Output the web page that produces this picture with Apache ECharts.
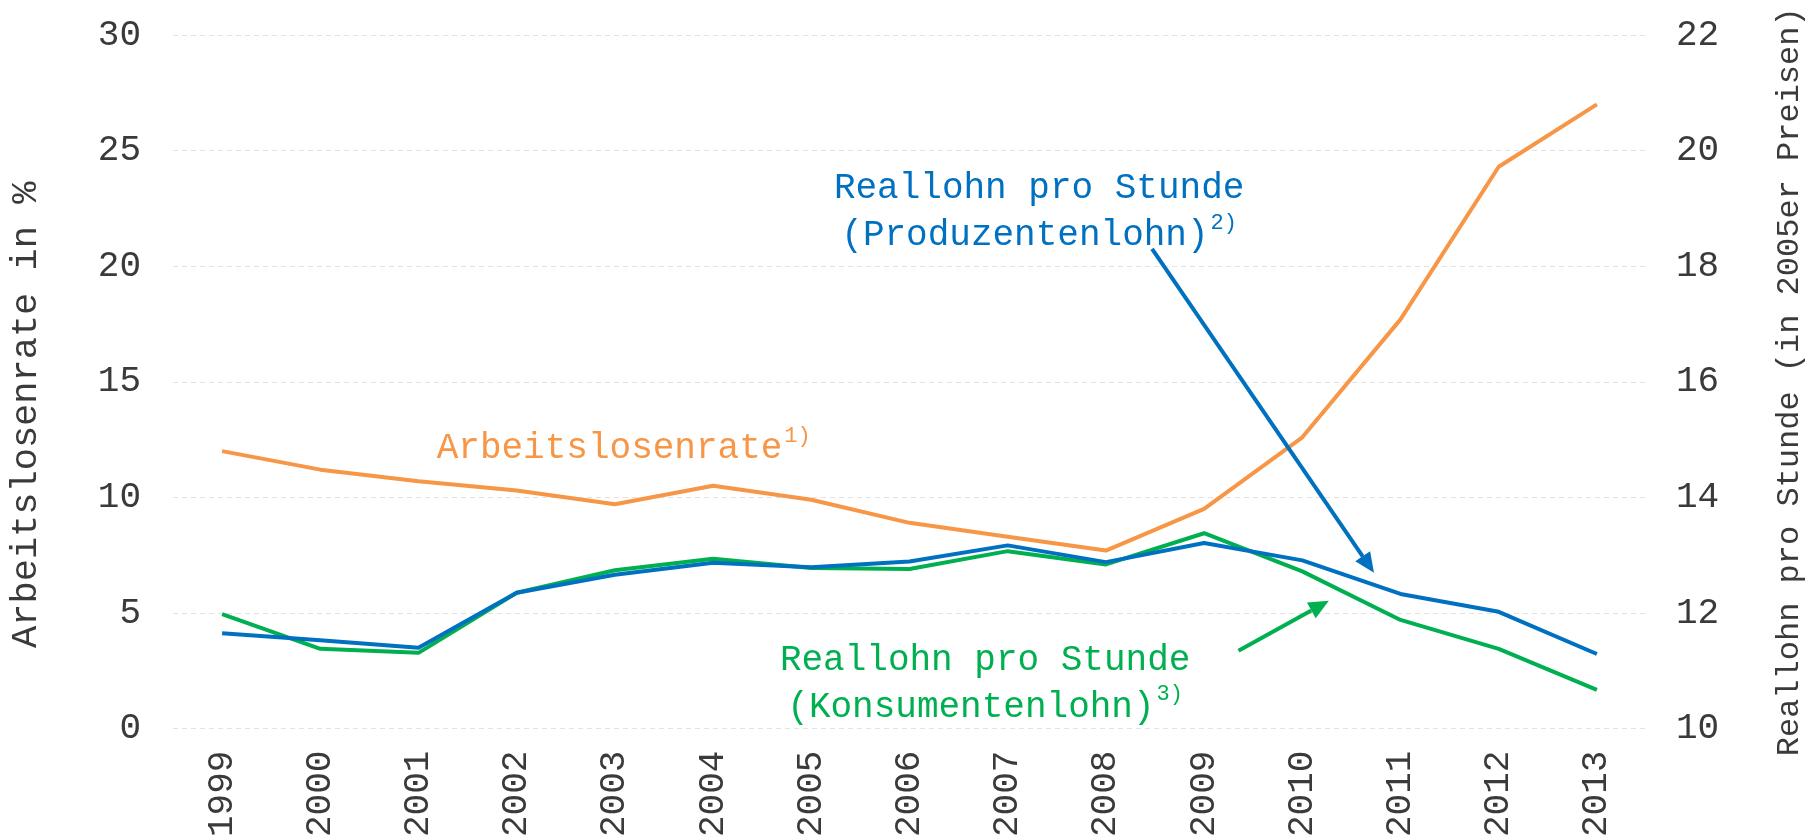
<!DOCTYPE html>
<html>
<head>
<meta charset="utf-8">
<script src="https://cdn.jsdelivr.net/npm/echarts@6/dist/echarts.min.js"></script>
<style>
  html, body { margin: 0; padding: 0; background: #fff; }
  #main { width: 1814px; height: 840px; }
</style>
</head>
<body>
<div id="main"></div>
<script>
// Daten
const years = ['1999', '2000', '2001', '2002', '2003', '2004', '2005', '2006',
  '2007', '2008', '2009', '2010', '2011', '2012', '2013'];
const arbeitslosenrate = [12.0, 11.2, 10.7, 10.3, 9.7, 10.5, 9.9, 8.9, 8.3, 7.7, 9.5, 12.6, 17.7, 24.3, 27.0];
const produzentenlohn = [11.65, 11.53, 11.40, 12.35, 12.66, 12.87, 12.79, 12.89, 13.17, 12.88, 13.21, 12.91, 12.33, 12.02, 11.29];
const konsumentenlohn = [11.98, 11.38, 11.31, 12.35, 12.74, 12.94, 12.78, 12.76, 13.07, 12.84, 13.38, 12.72, 11.88, 11.38, 10.67];
const leftTicks = [0, 30, 5];   // min, max, interval
const rightTicks = [10, 22, 2];

const font = "'Courier New', 'Liberation Mono', monospace";
const orange = '#F79646';
const blue = '#0070C0';
const green = '#00B050';
const grey = '#3a3a3a';

const chart = echarts.init(document.getElementById('main'), null, { renderer: 'canvas' });

const option = {
  animation: false,
  backgroundColor: '#fff',
  grid: { left: 160, right: 160, top: 35, bottom: 111 },
  xAxis: {
    type: 'category',
    data: years,
    boundaryGap: true,
    axisLine: { show: false },
    axisTick: { show: false },
    axisLabel: { rotate: 90, margin: 22, fontSize: 36, fontFamily: font, color: grey }
  },
  yAxis: [
    {
      type: 'value',
      min: leftTicks[0], max: leftTicks[1], interval: leftTicks[2],
      name: 'Arbeitslosenrate in %',
      nameLocation: 'middle',
      nameRotate: 90,
      nameGap: 128,
      nameTextStyle: { fontSize: 37, fontFamily: font, color: grey, padding: [0, 66, 0, 0] },
      axisLine: { show: false },
      axisTick: { show: false },
      axisLabel: { margin: 32, fontSize: 36, fontFamily: font, color: grey },
      splitLine: { lineStyle: { color: '#e2e2e2', width: 1, type: [5, 4] } }
    },
    {
      type: 'value',
      min: rightTicks[0], max: rightTicks[1], interval: rightTicks[2],
      name: 'Reallohn pro Stunde (in 2005er Preisen)',
      nameLocation: 'middle',
      nameRotate: 90,
      nameGap: 128,
      nameTextStyle: { fontSize: 32, fontFamily: font, color: grey },
      axisLine: { show: false },
      axisTick: { show: false },
      axisLabel: { margin: 30, fontSize: 36, fontFamily: font, color: grey },
      splitLine: { show: false }
    }
  ],
  series: [
    {
      name: 'Arbeitslosenrate', type: 'line', yAxisIndex: 0,
      data: arbeitslosenrate, symbol: 'none',
      lineStyle: { color: orange, width: 4 }
    },
    {
      name: 'Konsumentenlohn', type: 'line', yAxisIndex: 1,
      data: konsumentenlohn, symbol: 'none',
      lineStyle: { color: green, width: 4 }
    },
    {
      name: 'Produzentenlohn', type: 'line', yAxisIndex: 1,
      data: produzentenlohn, symbol: 'none',
      lineStyle: { color: blue, width: 4 }
    }
  ]
};
chart.setOption(option);

// Position im Diagramm: i = (gebrochener) Kategorienindex, v = Wert der linken Achse
function pos(i, v) {
  const i0 = Math.floor(i);
  const x0 = chart.convertToPixel({ xAxisIndex: 0 }, i0);
  const x1 = chart.convertToPixel({ xAxisIndex: 0 }, i0 + 1);
  const y = chart.convertToPixel({ yAxisIndex: 0 }, v);
  return [x0 + (x1 - x0) * (i - i0), y];
}

function arrow(p0, p1, color) {
  const dx = p1[0] - p0[0], dy = p1[1] - p0[1];
  const len = Math.sqrt(dx * dx + dy * dy);
  const ux = dx / len, uy = dy / len;
  const headLen = 20, headW = 9;
  const bx = p1[0] - ux * headLen, by = p1[1] - uy * headLen;
  return [
    { type: 'line', z: 10, shape: { x1: p0[0], y1: p0[1], x2: bx, y2: by },
      style: { stroke: color, lineWidth: 4 } },
    { type: 'polygon', z: 10,
      shape: { points: [[p1[0], p1[1]], [bx - uy * headW, by + ux * headW], [bx + uy * headW, by - ux * headW]] },
      style: { fill: color } }
  ];
}

function label(p, text, color) {
  return {
    type: 'text', z: 10, x: p[0], y: p[1],
    style: {
      text: text,
      align: 'center',
      verticalAlign: 'middle',
      fill: color,
      rich: {
        t: { fontSize: 36, fontFamily: font, fill: color, lineHeight: 47 },
        s: { fontSize: 22, fontFamily: font, fill: color, lineHeight: 47, verticalAlign: 'top', padding: [0, 0, 18, 2] }
      }
    }
  };
}

let elements = [];
elements.push(label(pos(4.09, 12.1), '{t|Arbeitslosenrate}{s|1)}', orange));
elements.push(label(pos(8.32, 22.35), '{t|Reallohn pro Stunde}\n{t|(Produzentenlohn)}{s|2)}', blue));
elements.push(label(pos(7.77, 1.95), '{t|Reallohn pro Stunde}\n{t|(Konsumentenlohn)}{s|3)}', green));
elements = elements.concat(arrow(pos(9.47, 20.75), pos(11.73, 6.74), blue));
elements = elements.concat(arrow(pos(10.35, 3.37), pos(11.27, 5.53), green));

chart.setOption({ graphic: elements });
</script>
</body>
</html>
